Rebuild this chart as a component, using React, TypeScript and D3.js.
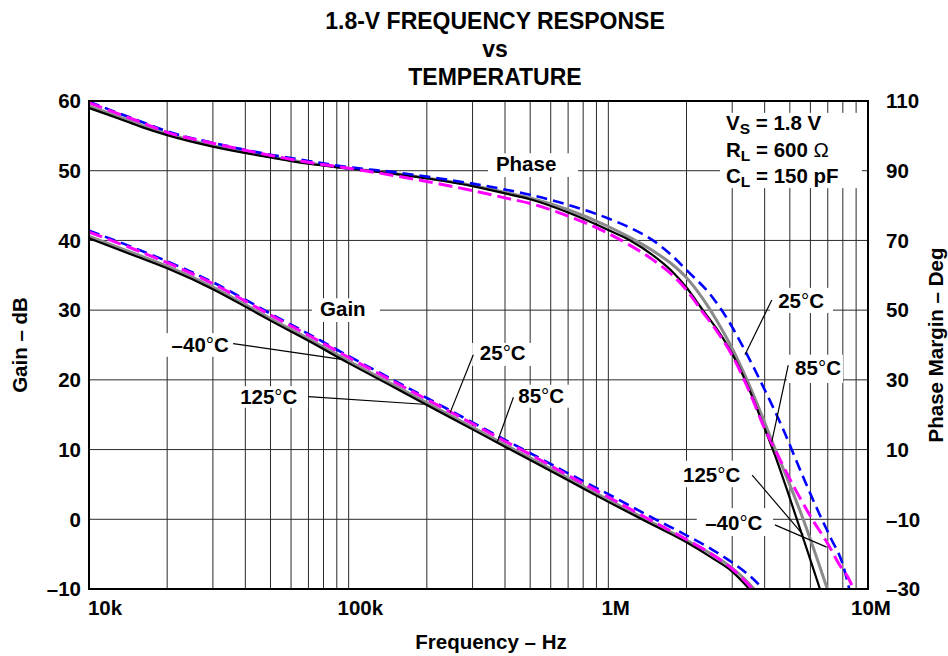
import React from "react";
import * as d3 from "d3";

const W = 948;
const H = 656;

const titleLines = ["1.8-V FREQUENCY RESPONSE", "vs", "TEMPERATURE"];
const freqTicks = [1e4, 1e5, 1e6, 1e7];
const freqTickLabels = ["10k", "100k", "1M", "10M"];
const gainTicks = [60, 50, 40, 30, 20, 10, 0, -10];
const gainTickLabels = ["60", "50", "40", "30", "20", "10", "0", "–10"];
const phaseTicks = [110, 90, 70, 50, 30, 10, -10, -30];
const phaseTickLabels = ["110", "90", "70", "50", "30", "10", "–10", "–30"];

// Gain (dB) vs frequency (Hz)
const gain125: [number, number][] = [
  [1e4, 40.3], [1.5e4, 37.8], [2e4, 36.0], [3e4, 33.0], [4e4, 30.5], [5e4, 28.5],
  [7e4, 25.6], [1e5, 22.4], [1.5e5, 18.9], [2e5, 16.4], [3e5, 12.9], [4e5, 10.4],
  [5e5, 8.5], [7e5, 5.6], [1e6, 2.5], [1.5e6, -0.9], [2e6, -3.3], [2.5e6, -5.5],
  [3e6, -7.5], [3.45e6, -9.8], [3.6e6, -10.6],
];
const gain85: [number, number][] = [
  [1e4, 40.6], [1.5e4, 38.1], [2e4, 36.3], [3e4, 33.3], [4e4, 30.8], [5e4, 28.8],
  [7e4, 25.9], [1e5, 22.7], [1.5e5, 19.2], [2e5, 16.7], [3e5, 13.2], [4e5, 10.7],
  [5e5, 8.8], [7e5, 5.9], [1e6, 2.8], [1.5e6, -0.6], [2e6, -3.0], [2.5e6, -5.0],
  [3e6, -7.0], [3.6e6, -9.8], [3.75e6, -10.6],
];
const gainM40: [number, number][] = [
  [1e4, 41.2], [1.5e4, 38.7], [2e4, 36.8], [3e4, 33.8], [4e4, 31.3], [5e4, 29.3],
  [7e4, 26.4], [1e5, 23.2], [1.5e5, 19.7], [2e5, 17.2], [3e5, 13.7], [4e5, 11.2],
  [5e5, 9.3], [7e5, 6.3], [1e6, 3.2], [1.5e6, -0.4], [2e6, -2.9], [2.5e6, -5.0],
  [3e6, -7.1], [3.55e6, -9.8], [3.7e6, -10.6],
];
const gain25: [number, number][] = [
  [1e4, 41.4], [1.5e4, 38.9], [2e4, 37.0], [3e4, 34.0], [4e4, 31.5], [5e4, 29.5],
  [7e4, 26.6], [1e5, 23.4], [1.5e5, 19.9], [2e5, 17.4], [3e5, 13.9], [4e5, 11.4],
  [5e5, 9.5], [7e5, 6.6], [1e6, 3.6], [1.5e6, 0.1], [2e6, -2.3], [2.5e6, -4.3],
  [3e6, -6.2], [3.5e6, -8.1], [4e6, -10.2],
];

// Phase margin (deg) vs frequency (Hz)
const phase25: [number, number][] = [
  [1e4, 109.8], [1.3e4, 106.5], [1.6e4, 104.0], [2e4, 101.3], [3e4, 98.0], [5e4, 94.6],
  [7e4, 92.8], [1e5, 91.0], [1.5e5, 89.6], [2e5, 88.3], [3e5, 86.3], [4e5, 84.6],
  [5e5, 83.1], [7e5, 80.2], [1e6, 76.3], [1.2e6, 73.8], [1.5e6, 69.8], [1.75e6, 65.8],
  [2e6, 61.5], [2.5e6, 54.0], [2.9e6, 47.0], [3.3e6, 39.5], [3.95e6, 28.0], [4.7e6, 16.0],
  [5.6e6, 2.5], [6.5e6, -8.5], [7.2e6, -15.5], [8e6, -23.0], [8.5e6, -30.5],
];
const phase85: [number, number][] = [
  [1e4, 108.5], [1.3e4, 105.5], [1.6e4, 103.0], [2e4, 100.6], [3e4, 97.2], [5e4, 94.0],
  [7e4, 92.2], [1e5, 90.7], [1.5e5, 89.2], [2e5, 87.9], [3e5, 85.8], [4e5, 83.8],
  [5e5, 82.2], [7e5, 78.8], [1e6, 74.0], [1.2e6, 71.0], [1.5e6, 66.8], [1.75e6, 63.3],
  [2e6, 59.3], [2.3e6, 53.5], [2.6e6, 47.3], [3e6, 39.0], [3.42e6, 30.0], [4.4e6, 10.0],
  [5.63e6, -10.0], [7e6, -30.4],
];
const phase125: [number, number][] = [
  [1e4, 108.0], [1.3e4, 105.0], [1.6e4, 102.5], [2e4, 100.2], [3e4, 96.9], [5e4, 93.8],
  [7e4, 92.0], [1e5, 90.6], [1.5e5, 89.1], [2e5, 87.8], [3e5, 85.6], [4e5, 83.5],
  [5e5, 81.8], [7e5, 78.0], [1e6, 73.0], [1.2e6, 70.2], [1.5e6, 65.5], [1.75e6, 61.3],
  [2e6, 56.5], [2.3e6, 50.2], [2.6e6, 44.9], [3e6, 37.5], [3.5e6, 27.0], [4e6, 16.0],
  [4.5e6, 6.0], [4.9e6, -2.0], [5.3e6, -9.6], [5.9e6, -20.0], [6.55e6, -30.3],
];
const phaseM40: [number, number][] = [
  [1e4, 109.5], [1.3e4, 106.3], [1.6e4, 103.8], [2e4, 101.0], [3e4, 97.9], [5e4, 94.4],
  [7e4, 92.4], [1e5, 90.7], [1.5e5, 88.6], [2e5, 86.9], [3e5, 84.3], [4e5, 82.2],
  [5e5, 80.6], [7e5, 77.0], [1e6, 72.0], [1.2e6, 68.8], [1.5e6, 64.2], [1.75e6, 60.3],
  [2e6, 55.8], [2.3e6, 49.6], [2.6e6, 44.3], [3e6, 37.0], [3.5e6, 26.5], [4e6, 16.0],
  [4.25e6, 12.0], [4.7e6, 5.5], [5.3e6, -2.0], [6.1e6, -10.0], [7e6, -17.0],
  [7.7e6, -22.6], [8.6e6, -28.4], [8.9e6, -31.5],
];

type Note = {
  lines: { main: string; sub?: string; rest?: string; at: [number, number] }[];
  box: [number, number, number, number]; // f0, f1, g0, g1 (gain-axis units)
  leader?: [[number, number], [number, number]];
};

const notes: Note[] = [
  { lines: [{ main: "Phase", at: [3.69e5, 50.0] }], box: [3.44e5, 7.64e5, 49.1, 52.5] },
  { lines: [{ main: "Gain", at: [7.76e4, 29.1] }], box: [7.22e4, 1.32e5, 28.3, 31.7] },
  { lines: [{ main: "–40°C", at: [2.08e4, 24.0] }], box: [1.93e4, 3.59e4, 23.3, 26.7],
    leader: [[3.59e4, 25.2], [9.53e4, 22.9]] },
  { lines: [{ main: "125°C", at: [3.82e4, 16.5] }], box: [3.68e4, 6.97e4, 16.0, 19.1],
    leader: [[6.99e4, 17.6], [1.94e5, 16.5]] },
  { lines: [{ main: "25°C", at: [3.2e5, 22.85] }], box: [2.99e5, 5.13e5, 22.0, 25.3],
    leader: [[3.02e5, 23.6], [2.46e5, 15.3]] },
  { lines: [{ main: "85°C", at: [4.5e5, 16.7] }], box: [4.18e5, 7.18e5, 16.0, 19.3],
    leader: [[4.31e5, 17.5], [3.72e5, 10.9]] },
  { lines: [
      { main: "V", sub: "S", rest: " = 1.8 V", at: [2.84e6, 55.84] },
      { main: "R", sub: "L", rest: " = 600 Ω", at: [2.84e6, 52.0] },
      { main: "C", sub: "L", rest: " = 150 pF", at: [2.84e6, 48.2] },
    ], box: [2.69e6, 9.48e6, 47.5, 58.3] },
  { lines: [{ main: "25°C", at: [4.51e6, 30.3] }], box: [4.19e6, 7.33e6, 29.6, 33.2],
    leader: [[4.26e6, 31.45], [3.36e6, 23.6]] },
  { lines: [{ main: "85°C", at: [5.24e6, 20.7] }], box: [4.88e6, 8.01e6, 19.55, 23.6],
    leader: [[4.93e6, 22.1], [4.26e6, 11.1]] },
  { lines: [{ main: "125°C", at: [1.94e6, 5.4] }], box: [1.82e6, 3.45e6, 4.6, 8.4],
    leader: [[3.58e6, 6.35], [5.63e6, -2.25]] },
  { lines: [{ main: "–40°C", at: [2.36e6, -1.55] }], box: [2.19e6, 4.31e6, -2.4, 1.6],
    leader: [[4.38e6, -0.8], [6.93e6, -4.0]] },
];

const FONT = "'Liberation Sans', Arial, Helvetica, sans-serif";

function Label({ s }: { s: string }) {
  const parts = s.split("°");
  if (parts.length === 1) return <>{s}</>;
  return (
    <>
      {parts[0]}
      <tspan fontWeight="normal">°</tspan>
      {parts[1]}
    </>
  );
}

export default function App() {
  const L = 89, R = 868, T = 101, B = 589;
  const x = d3.scaleLog().domain([1e4, 1e7]).range([L, R]);
  const labelX = d3.scaleLog().domain([1e4, 1e7]).range([L + 16, R + 3]);
  const yG = d3.scaleLinear().domain([-10, 60]).range([B, T]);
  const yP = d3.scaleLinear().domain([-30, 110]).range([B, T]);

  const vGrid = x.ticks().filter((f) => f > 1e4 * 1.001 && f < 1e7 * 0.999);
  const hGridLines = d3.range(0, 60, 10);

  const lineG = d3.line<[number, number]>().x((d) => x(d[0])).y((d) => yG(d[1])).curve(d3.curveMonotoneX);
  const lineP = d3.line<[number, number]>().x((d) => x(d[0])).y((d) => yP(d[1])).curve(d3.curveMonotoneX);

  const series = [
    { g: gain85, p: phase85, stroke: "#8a8a8a", w: 3, dash: "" },
    { g: gain125, p: phase125, stroke: "#000000", w: 2.2, dash: "" },
    { g: gain25, p: phase25, stroke: "#0000ff", w: 2.6, dash: "11 6" },
    { g: gainM40, p: phaseM40, stroke: "#ff00ff", w: 3, dash: "14 6" },
  ];

  const fs = 20.5;

  return (
    <svg width={W} height={H} style={{ position: "absolute", left: 0, top: 0, background: "#fff" }}
      fontFamily={FONT} fontWeight="bold">
      <defs>
        <clipPath id="plot">
          <rect x={L} y={T} width={R - L} height={B - T} />
        </clipPath>
      </defs>
      <rect x={0} y={0} width={W} height={H} fill="#fff" />

      {titleLines.map((t, i) => (
        <text key={t} x={495} y={29 + i * 28} textAnchor="middle" fontSize={23}>{t}</text>
      ))}

      <g stroke="#2a2a2a" strokeWidth={1}>
        {vGrid.map((f) => (
          <line key={"v" + f} x1={x(f)} x2={x(f)} y1={T} y2={B} />
        ))}
        {hGridLines.map((v) => (
          <line key={"h" + v} x1={L} x2={R} y1={yG(v)} y2={yG(v)} />
        ))}
      </g>

      {notes.map((n, i) => (
        <rect key={"b" + i} x={x(n.box[0])} width={x(n.box[1]) - x(n.box[0])}
          y={yG(n.box[3])} height={yG(n.box[2]) - yG(n.box[3])} fill="#fff" />
      ))}

      <g clipPath="url(#plot)" fill="none">
        {series.map((s, i) => (
          <g key={i} stroke={s.stroke} strokeWidth={s.w} strokeDasharray={s.dash || undefined}
            strokeLinejoin="round">
            <path d={lineG(s.g) || ""} />
            <path d={lineP(s.p) || ""} />
          </g>
        ))}
      </g>

      {notes.map((n, i) => (
        <g key={"n" + i}>
          {n.lines.map((ln, j) => (
            <text key={j} x={x(ln.at[0])} y={yG(ln.at[1])} fontSize={fs}>
              <Label s={ln.main} />
              {ln.sub ? (
                <>
                  <tspan fontSize={15.5} dy={4}>{ln.sub}</tspan>
                  <tspan dy={-4}>{ln.rest && ln.rest.includes("Ω") ? (
                    <>{ln.rest.replace("Ω", "")}<tspan fontWeight="normal">Ω</tspan></>
                  ) : ln.rest}</tspan>
                </>
              ) : null}
            </text>
          ))}
          {n.leader ? (
            <line x1={x(n.leader[0][0])} y1={yG(n.leader[0][1])} x2={x(n.leader[1][0])}
              y2={yG(n.leader[1][1])} stroke="#000" strokeWidth={1.2} />
          ) : null}
        </g>
      ))}

      <rect x={L} y={T} width={R - L} height={B - T} fill="none" stroke="#000" strokeWidth={2} />

      {gainTicks.map((v, i) => (
        <text key={"gl" + v} x={81} y={yG(v) + 7.3} textAnchor="end" fontSize={fs}>{gainTickLabels[i]}</text>
      ))}
      {phaseTicks.map((v, i) => (
        <text key={"pl" + v} x={886} y={yP(v) + 7.3} textAnchor="start" fontSize={fs}>{phaseTickLabels[i]}</text>
      ))}
      {freqTicks.map((f, i) => (
        <text key={"fl" + f} x={labelX(f)} y={615} textAnchor="middle" fontSize={fs}>{freqTickLabels[i]}</text>
      ))}

      <text x={491} y={649} textAnchor="middle" fontSize={fs}>Frequency – Hz</text>
      <text transform={`translate(26.5, ${(T + B) / 2}) rotate(-90)`} textAnchor="middle" fontSize={fs}>Gain – dB</text>
      <text transform={`translate(943, ${(T + B) / 2}) rotate(-90)`} textAnchor="middle" fontSize={fs}>Phase Margin – Deg</text>
    </svg>
  );
}
